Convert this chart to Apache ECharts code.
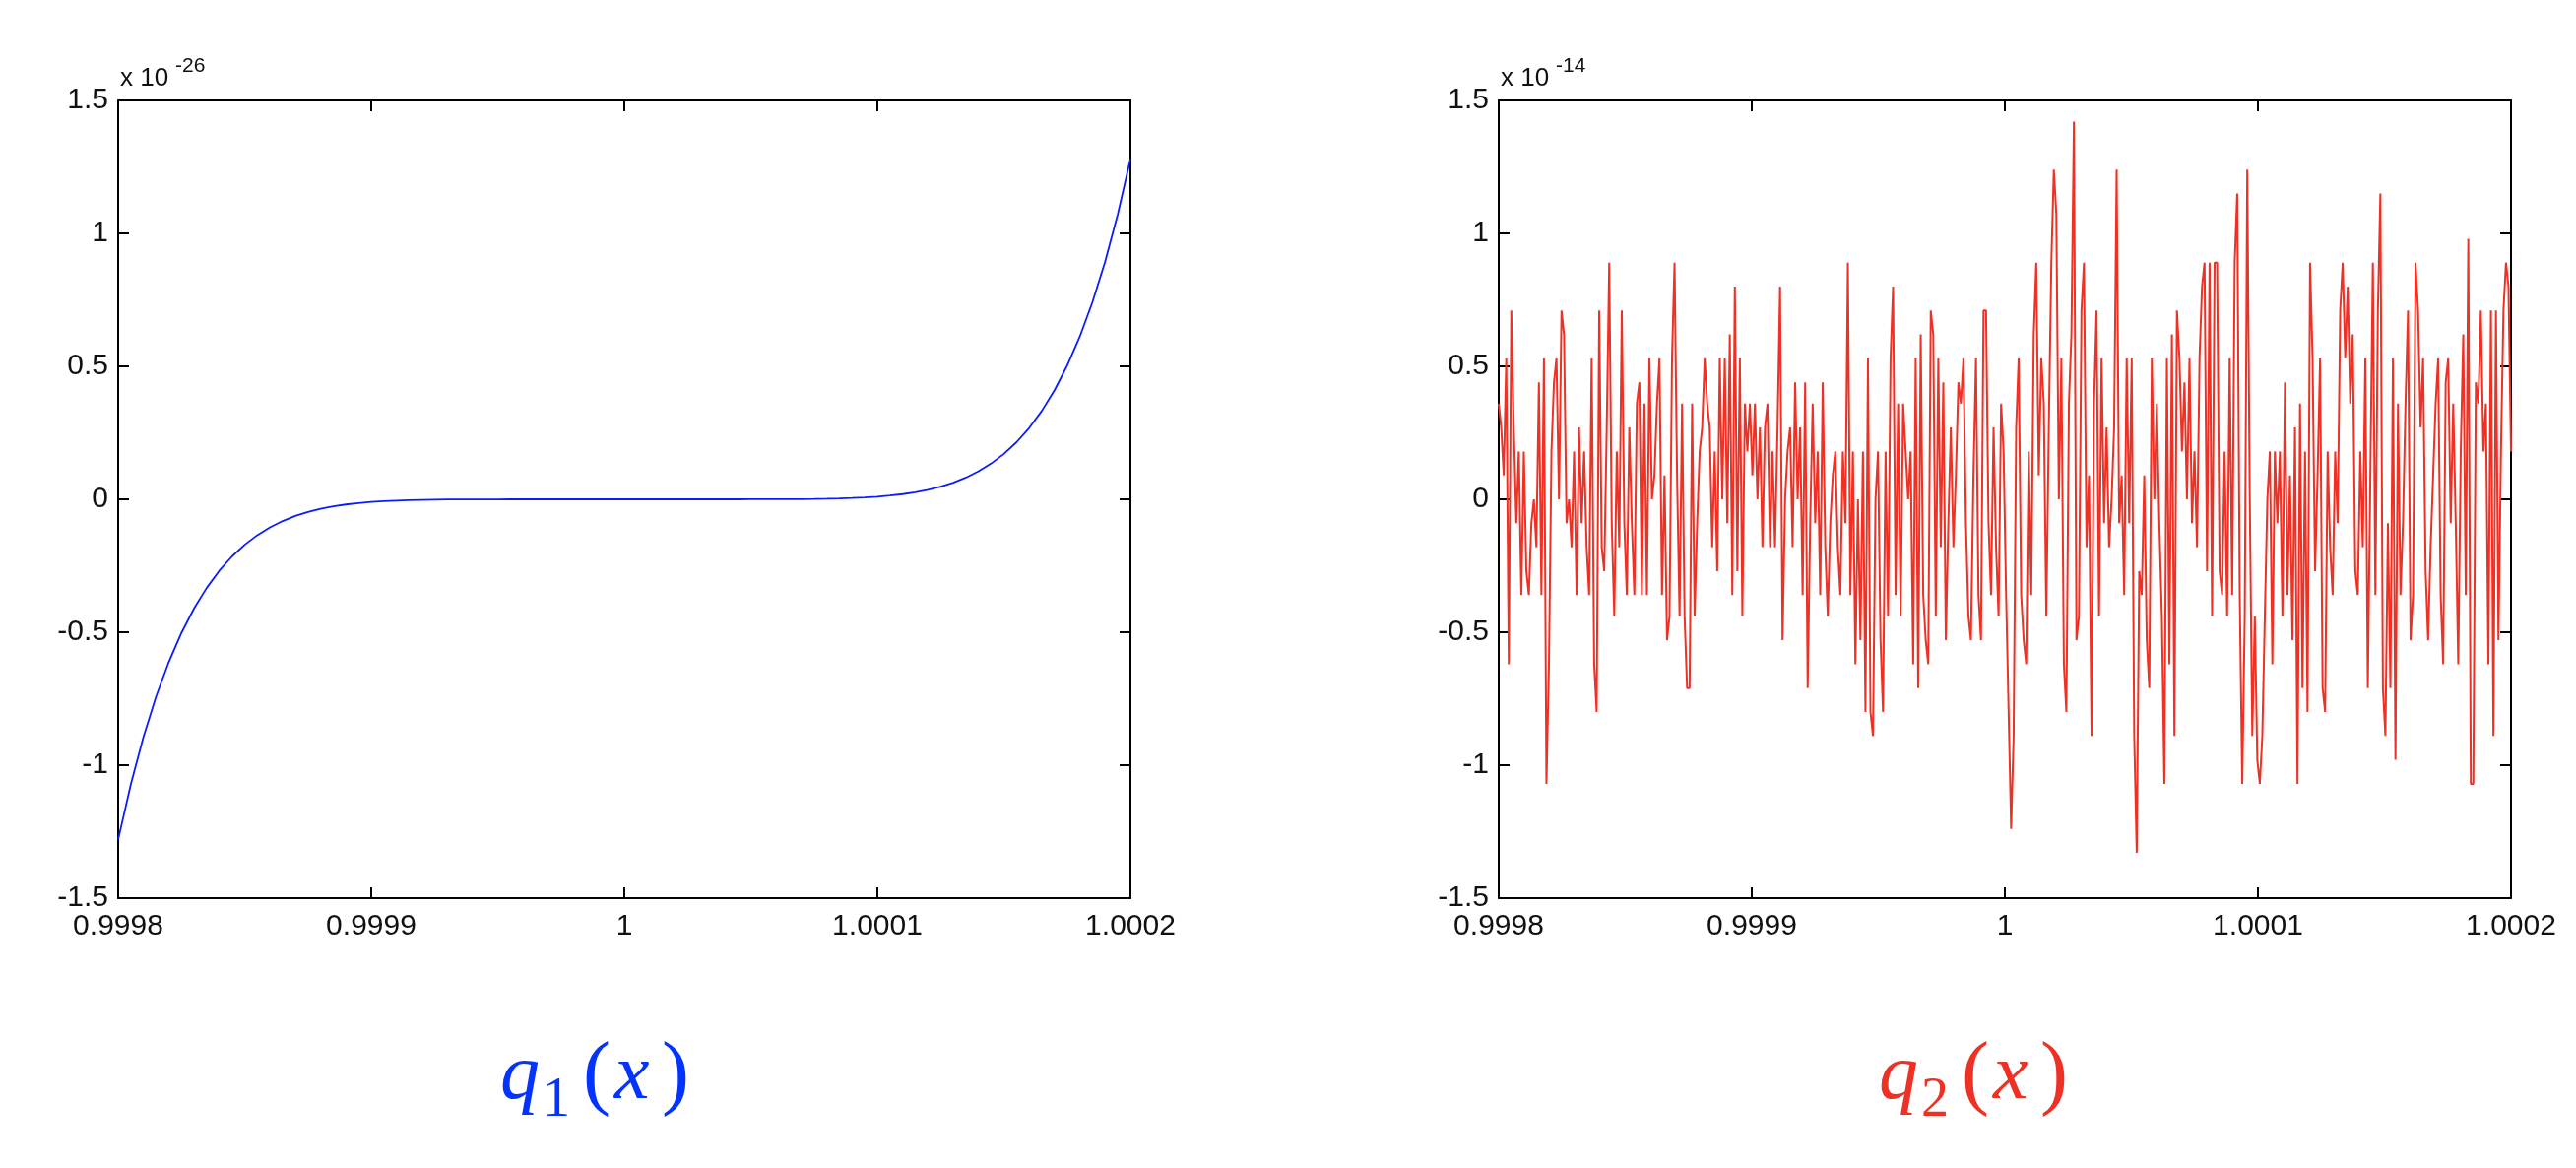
<!DOCTYPE html>
<html>
<head>
<meta charset="utf-8">
<script src="https://cdn.jsdelivr.net/npm/echarts@6/dist/echarts.min.js"></script>
<style>
html,body{margin:0;padding:0;background:#fff;}
#chart{width:2616px;height:1186px;}
</style>
</head>
<body>
<div id="chart"></div>
<script>
// ---------- data ----------
const xMin = 0.9998, xMax = 1.0002, xStep = 0.0001;
const yMin = -1.5, yMax = 1.5, yStep = 0.5;
const xTickLabels = ['0.9998', '0.9999', '1', '1.0001', '1.0002'];
const yTickLabels = ['-1.5', '-1', '-0.5', '0', '0.5', '1', '1.5'];

// q1(x), values in units of 1e-26 at 81 evenly spaced x (0.9998 ... 1.0002)
const q1Y = [-1.28,-1.0721,-0.8939,-0.7416,-0.6122,-0.5027,-0.4103,-0.3329,-0.2684,-0.2149,
  -0.1709,-0.1348,-0.1054,-0.0817,-0.0627,-0.0477,-0.0358,-0.0266,-0.0195,-0.0141,
  -0.0100,-0.0070,-0.0048,-0.0032,-0.0021,-0.0013,-0.0008,-0.0005,-0.0003,-0.0002,
  -0.0001,0,0,0,0,0,0,0,0,0,
  0,
  0,0,0,0,0,0,0,0,0,0.0001,
  0.0002,0.0003,0.0005,0.0008,0.0013,0.0021,0.0032,0.0048,0.0070,0.0100,
  0.0141,0.0195,0.0266,0.0358,0.0477,0.0627,0.0817,0.1054,0.1348,0.1709,
  0.2149,0.2684,0.3329,0.4103,0.5027,0.6122,0.7416,0.8939,1.0721,1.28];

// q2(x), values in units of 1e-14 (four quarters of the x range)
const q2Part1 = [0.36,0.27,0.09,0.53,-0.62,0.71,0.27,-0.09,0.18,-0.36,
  0.18,-0.27,-0.36,-0.09,0,-0.18,0.44,-0.36,0.53,-1.07,
  -0.62,0.18,0.44,0.53,0,0.71,0.62,-0.09,0,-0.18,
  0.18,-0.36,0.27,-0.09,0.18,-0.18,-0.36,0.53,-0.62,-0.80,
  0.71,-0.18,-0.27,0.27,0.89,-0.09,-0.44,0.18,-0.18,0.71,
  -0.09,-0.36,0.27,-0.09,-0.36,0.36,0.44,-0.36,0.36,-0.36,
  0.53,0,0.09,0.36,0.53,-0.36,0.09,-0.53,-0.44,0.53,
  0.89,0.09,-0.44,0.36,-0.44,-0.71,-0.71,0.36,-0.44,-0.09,
  0.18,0.27,0.53,0.36,0.27,-0.18,0.18,-0.27,0.53,0,
  0.53,-0.09,0.62,-0.36,0.80,-0.27,0.53,-0.44,0.36,0.18];
const q2Part2 = [0.36,0.09,0.36,0,0.27,-0.18,0.27,0.36,
  -0.18,0.18,-0.18,0.27,0.80,-0.53,0,0.18,0.27,-0.18,
  0.44,0,0.27,-0.36,0.44,-0.71,-0.09,0.36,
  -0.09,0.18,-0.36,0.44,-0.18,-0.44,-0.09,0.09,
  0.18,-0.18,-0.36,0.18,-0.09,0.89,-0.36,0.18,-0.62,0,
  -0.53,0.18,-0.80,0.53,-0.80,-0.89,0,0.18,-0.53,-0.80,
  0.18,-0.44,0.53,0.80,-0.36,0.36,-0.44,0.36,0.18,
  0,0.18,-0.62,0.53,-0.71,0.62,-0.36,-0.53,-0.62,0.71,
  0.62,-0.44,0.53,-0.18,0.44,-0.53,-0.09,0.27,
  -0.18,0.09,0.44,0.36,0.53,-0.09,-0.44,-0.53,0.09,0.53,
  -0.36,-0.53,0.71,0.71,-0.09,-0.36,0.27,-0.18,-0.44];
const q2Part3 = [0.36,0.18,-0.36,-0.80,-1.24,-0.89,0.27,0.53,-0.36,
  -0.53,-0.62,0.18,-0.36,0.62,0.89,0.09,0.53,
  0.36,-0.44,0.27,0.89,1.24,1.07,0,0.53,-0.62,-0.80,
  0.36,0.62,1.42,-0.53,-0.44,0.71,0.89,-0.18,0.09,
  -0.89,0.36,0.71,-0.44,0.53,-0.09,0.27,-0.18,0,
  0.27,1.24,-0.09,0.09,-0.36,0.53,-0.09,0.53,
  -0.89,-1.33,-0.27,-0.36,0.09,-0.53,-0.71,0.53,0,
  0.36,-0.09,-0.44,-1.07,0.53,-0.62,0.62,-0.89,0.71,
  0.53,0.18,0.44,0,0.53,-0.09,0.18,-0.18,
  0.53,0.80,0.89,-0.27,0.89,-0.44,0.89,0.89,-0.27,-0.36,
  0.18,-0.44,0.53,-0.36,0.89,1.15,-0.36,-1.07,-0.44,
  1.24,0,-0.89,-0.44,-0.98];
const q2Part4 = [-1.07,-0.89,-0.44,0,0.18,-0.62,0.18,-0.09,
  0.18,-0.44,0.44,-0.36,0.09,-0.53,0.27,-1.07,
  0.36,-0.71,0.18,-0.80,0.89,0.53,-0.27,0.09,
  0.53,-0.71,-0.80,0.18,-0.18,-0.36,0.18,-0.09,
  0.71,0.89,0.53,0.80,0.36,0.62,-0.27,-0.36,
  0.18,-0.18,0.53,-0.71,0.09,0.89,-0.36,0.71,1.15,-0.71,
  -0.89,-0.09,-0.71,0.53,-0.98,0.36,-0.36,-0.09,
  0.36,0.71,-0.53,-0.36,0.89,0.71,0.27,0.53,-0.27,
  -0.53,-0.18,0.09,0.36,0.53,-0.36,-0.62,0.44,
  0.53,-0.09,0.36,-0.09,-0.62,0.18,0.62,-0.36,0.98,
  -1.07,-1.07,0.44,0.36,0.71,0.18,0.36,-0.62,0.71,
  -0.89,0.71,-0.53,0.18,0.71,0.89,0.80,0.18];
const q2Y = [].concat(q2Part1, q2Part2, q2Part3, q2Part4);

// ---------- build ----------
const BLUE_LINE = '#0a1cff';
const RED_LINE = '#ee3124';
const BLUE_TITLE = '#0433ff';
const RED_TITLE = '#ee3124';
const FONT = '"Liberation Sans", Arial, Helvetica, sans-serif';
const SERIF = '"Liberation Serif", "Times New Roman", serif';

function onGrid(values) {
  return values.map((y, i) => [xMin + i * (xMax - xMin) / (values.length - 1), y]);
}
const q1Data = onGrid(q1Y);
const q2Data = onGrid(q2Y);

function fmtX(v) {
  const idx = Math.round((v - xMin) / xStep);
  return xTickLabels[idx] !== undefined ? xTickLabels[idx] : '';
}
function fmtY(v) {
  const idx = Math.round((v - yMin) / yStep);
  return yTickLabels[idx] !== undefined ? yTickLabels[idx] : '';
}

const tickStyle = { inside: true, length: 11, lineStyle: { color: '#000', width: 2 } };
const lineStyle = { show: true, onZero: false, lineStyle: { color: '#000', width: 2 } };

function xAxes(gridIndex) {
  return [
    { type: 'value', gridIndex, position: 'bottom', min: xMin, max: xMax, interval: xStep,
      axisLine: lineStyle, axisTick: tickStyle, splitLine: { show: false },
      axisLabel: { show: true, formatter: fmtX, margin: 14, fontSize: 30, color: '#111', fontFamily: FONT,
                   showMinLabel: true, showMaxLabel: true, hideOverlap: false } },
    { type: 'value', gridIndex, position: 'top', min: xMin, max: xMax, interval: xStep,
      axisLine: lineStyle, axisTick: tickStyle, splitLine: { show: false }, axisLabel: { show: false } }
  ];
}
function yAxes(gridIndex) {
  return [
    { type: 'value', gridIndex, position: 'left', min: yMin, max: yMax, interval: yStep,
      axisLine: lineStyle, axisTick: tickStyle, splitLine: { show: false },
      axisLabel: { show: true, formatter: fmtY, margin: 10, fontSize: 30, color: '#111', fontFamily: FONT,
                   showMinLabel: true, showMaxLabel: true } },
    { type: 'value', gridIndex, position: 'right', min: yMin, max: yMax, interval: yStep,
      axisLine: lineStyle, axisTick: tickStyle, splitLine: { show: false }, axisLabel: { show: false } }
  ];
}

function titleGlyphs(x0, sub, color) {
  return [
    { type: 'text', x: x0, y: 1094, style: { text: 'q', fontSize: 80, fontStyle: 'italic', fontFamily: SERIF, fill: color, align: 'left', verticalAlign: 'middle' } },
    { type: 'text', x: x0 + 43, y: 1118, style: { text: sub, fontSize: 56, fontFamily: SERIF, fill: color, align: 'left', verticalAlign: 'middle' } },
    { type: 'text', x: x0 + 84, y: 1094, style: { text: '(', fontSize: 84, fontFamily: SERIF, fill: color, align: 'left', verticalAlign: 'middle' } },
    { type: 'text', x: x0 + 116, y: 1094, style: { text: 'x', fontSize: 80, fontStyle: 'italic', fontFamily: SERIF, fill: color, align: 'left', verticalAlign: 'middle' } },
    { type: 'text', x: x0 + 164, y: 1094, style: { text: ')', fontSize: 84, fontFamily: SERIF, fill: color, align: 'left', verticalAlign: 'middle' } }
  ];
}
function expLabel(x0, exp) {
  return [
    { type: 'text', x: x0, y: 80, style: { text: 'x 10', fontSize: 26, fontFamily: FONT, fill: '#111', align: 'left', verticalAlign: 'middle' } },
    { type: 'text', x: x0 + 56, y: 67, style: { text: exp, fontSize: 21, fontFamily: FONT, fill: '#111', align: 'left', verticalAlign: 'middle' } }
  ];
}

const chart = echarts.init(document.getElementById('chart'), null, { renderer: 'canvas' });
chart.setOption({
  animation: false,
  backgroundColor: '#fff',
  grid: [
    { left: 120, top: 102, width: 1028, height: 810, containLabel: false },
    { left: 1522, top: 102, width: 1028, height: 810, containLabel: false }
  ],
  xAxis: [].concat(xAxes(0), xAxes(1)),
  yAxis: [].concat(yAxes(0), yAxes(1)),
  series: [
    { type: 'line', xAxisIndex: 0, yAxisIndex: 0, data: q1Data, showSymbol: false,
      lineStyle: { color: BLUE_LINE, width: 1.8 }, clip: true, silent: true },
    { type: 'line', xAxisIndex: 2, yAxisIndex: 2, data: q2Data, showSymbol: false,
      lineStyle: { color: RED_LINE, width: 2 }, clip: true, silent: true }
  ],
  graphic: [].concat(
    expLabel(122, '-26'),
    expLabel(1524, '-14'),
    titleGlyphs(508, '1', BLUE_TITLE),
    titleGlyphs(1908, '2', RED_TITLE)
  )
});
</script>
</body>
</html>
